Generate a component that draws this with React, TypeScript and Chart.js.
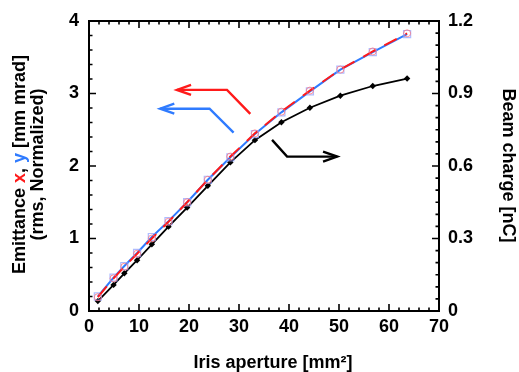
import React, { useEffect, useRef } from "react";
import { Chart, registerables } from "chart.js";

Chart.register(...registerables);

// ---- data ----
const apertures = [1.77, 4.91, 7.07, 9.62, 12.57, 15.9, 19.63, 23.76, 28.27, 33.18, 38.48, 44.18, 50.27, 56.75, 63.62];
const emittanceX = [0.19, 0.45, 0.61, 0.79, 1.0, 1.23, 1.5, 1.81, 2.13, 2.45, 2.75, 3.04, 3.33, 3.58, 3.83];
const emittanceY = [0.2, 0.46, 0.62, 0.8, 1.02, 1.24, 1.5, 1.81, 2.12, 2.44, 2.74, 3.03, 3.33, 3.57, 3.82];
const beamCharge = [0.041, 0.108, 0.156, 0.21, 0.276, 0.349, 0.428, 0.518, 0.615, 0.707, 0.781, 0.841, 0.891, 0.931, 0.962];

const xTicks = [0, 10, 20, 30, 40, 50, 60, 70];
const leftTicks = [0, 1, 2, 3, 4];
const rightTicks = [0, 0.3, 0.6, 0.9, 1.2];
const rightTickLabels = ["0", "0.3", "0.6", "0.9", "1.2"];
const xMinorStep = 2;
const leftMinorStep = 0.2;
const rightMinorStep = 0.05;

const xTitle = "Iris aperture [mm\u00B2]";
const rightTitle = "Beam charge [nC]";
const leftTitleLine2 = "(rms, Normalized)";

const RED = "#ff1a1a";
const BLUE = "#2f7bff";
const BLACK = "#000000";

// annotation arrows in data coordinates (x, left y)
const arrowRed = [[32.26, 2.72], [27.6, 3.05], [17.58, 3.05]];
const arrowBlue = [[28.92, 2.46], [24.11, 2.79], [14.23, 2.79]];
const arrowBlack = [[36.61, 2.36], [39.62, 2.13], [49.64, 2.13]];

const FONT = "'Liberation Sans', Arial, Helvetica, sans-serif";

const framePlugin = {
  id: "frameTicks",
  afterDraw(chart: any) {
    const { ctx, chartArea: a, scales } = chart;
    const sx = scales.x, sy = scales.y, sy2 = scales.y2;
    ctx.save();
    ctx.strokeStyle = "#000";
    ctx.lineWidth = 1.6;
    const major = 7, minor = 3.5;
    ctx.beginPath();
    for (let v = 0; v <= 70 + 1e-9; v += xMinorStep) {
      const isMajor = xTicks.some((t) => Math.abs(t - v) < 1e-6);
      const L = isMajor ? major : minor;
      const px = sx.getPixelForValue(v);
      ctx.moveTo(px, a.bottom); ctx.lineTo(px, a.bottom - L);
      ctx.moveTo(px, a.top); ctx.lineTo(px, a.top + L);
    }
    for (let v = 0; v <= 4 + 1e-9; v += leftMinorStep) {
      const isMajor = leftTicks.some((t) => Math.abs(t - v) < 1e-6);
      const L = isMajor ? major : minor;
      const py = sy.getPixelForValue(v);
      ctx.moveTo(a.left, py); ctx.lineTo(a.left + L, py);
    }
    for (let v = 0; v <= 1.2 + 1e-9; v += rightMinorStep) {
      const isMajor = rightTicks.some((t) => Math.abs(t - v) < 1e-6);
      const L = isMajor ? major : minor;
      const py = sy2.getPixelForValue(v);
      ctx.moveTo(a.right, py); ctx.lineTo(a.right - L, py);
    }
    ctx.stroke();
    ctx.lineWidth = 2;
    ctx.strokeRect(a.left, a.top, a.right - a.left, a.bottom - a.top);

    // titles
    ctx.fillStyle = "#000";
    ctx.font = `bold 18px ${FONT}`;
    ctx.textBaseline = "middle";
    ctx.textAlign = "center";
    ctx.fillText(xTitle, 273, 363);

    ctx.save();
    ctx.translate(508, 165.5);
    ctx.rotate(Math.PI / 2);
    ctx.fillText(rightTitle, 0, 0);
    ctx.restore();

    ctx.save();
    ctx.translate(20, 164.5);
    ctx.rotate(-Math.PI / 2);
    const parts: [string, string][] = [
      ["Emittance ", BLACK], ["x", RED], [", ", BLACK], ["y", BLUE], [" [mm mrad]", BLACK],
    ];
    const total = parts.reduce((s, p) => s + ctx.measureText(p[0]).width, 0);
    let cx = -total / 2;
    ctx.textAlign = "left";
    for (const [t, c] of parts) {
      ctx.fillStyle = c;
      ctx.fillText(t, cx, 0);
      cx += ctx.measureText(t).width;
    }
    ctx.fillStyle = BLACK;
    ctx.textAlign = "center";
    ctx.fillText(leftTitleLine2, 0, 18);
    ctx.restore();
    ctx.restore();
  },
  afterDatasetsDraw(chart: any) {
    const { ctx, scales } = chart;
    const sx = scales.x, sy = scales.y;
    const drawArrow = (pts: number[][], color: string) => {
      const p = pts.map(([x, y]) => [sx.getPixelForValue(x), sy.getPixelForValue(y)]);
      ctx.save();
      ctx.strokeStyle = color;
      ctx.lineWidth = 2.4;
      ctx.lineJoin = "miter";
      ctx.beginPath();
      ctx.moveTo(p[0][0], p[0][1]);
      for (let i = 1; i < p.length; i++) ctx.lineTo(p[i][0], p[i][1]);
      ctx.stroke();
      const [ex, ey] = p[p.length - 1];
      const [qx, qy] = p[p.length - 2];
      const ang = Math.atan2(ey - qy, ex - qx);
      const len = 15, spread = 0.34;
      ctx.beginPath();
      ctx.moveTo(ex - len * Math.cos(ang - spread), ey - len * Math.sin(ang - spread));
      ctx.lineTo(ex, ey);
      ctx.lineTo(ex - len * Math.cos(ang + spread), ey - len * Math.sin(ang + spread));
      ctx.stroke();
      ctx.restore();
    };
    drawArrow(arrowRed, RED);
    drawArrow(arrowBlue, BLUE);
    drawArrow(arrowBlack, BLACK);
  },
};

export default function App() {
  const ref = useRef<HTMLCanvasElement | null>(null);
  useEffect(() => {
    if (!ref.current) return;
    const tickFont = { family: FONT, size: 18, weight: "bold" as const };
    const chart = new Chart(ref.current, {
      type: "line",
      data: {
        datasets: [
          {
            label: "x",
            data: apertures.map((x, i) => ({ x, y: emittanceX[i] })),
            yAxisID: "y",
            borderColor: RED,
            borderWidth: 2,
            borderDash: [14, 10],
            pointStyle: "circle",
            pointRadius: 3.5,
            pointBorderColor: "rgba(255,110,120,0.75)",
            pointBackgroundColor: "rgba(0,0,0,0)",
            pointBorderWidth: 1,
            order: 0,
          },
          {
            label: "y",
            data: apertures.map((x, i) => ({ x, y: emittanceY[i] })),
            yAxisID: "y",
            borderColor: BLUE,
            borderWidth: 2,
            pointStyle: "rect",
            pointRadius: 5,
            pointBorderColor: "rgba(140,160,255,0.7)",
            pointBackgroundColor: "rgba(0,0,0,0)",
            pointBorderWidth: 1.2,
            order: 1,
          },
          {
            label: "charge",
            data: apertures.map((x, i) => ({ x, y: beamCharge[i] })),
            yAxisID: "y2",
            borderColor: BLACK,
            borderWidth: 1.8,
            pointStyle: "rectRot",
            pointRadius: 3.2,
            pointBorderColor: BLACK,
            pointBackgroundColor: BLACK,
            pointBorderWidth: 0,
            order: 2,
          },
        ],
      },
      options: {
        responsive: false,
        animation: false,
        devicePixelRatio: 1,
        layout: { padding: { top: 21, left: 0, right: 0, bottom: 0 } },
        plugins: { legend: { display: false }, tooltip: { enabled: false } },
        elements: { line: { tension: 0 } },
        scales: {
          x: {
            type: "linear",
            min: 0,
            max: 70,
            grid: { display: false, drawTicks: false },
            border: { display: false },
            ticks: { stepSize: 10, font: tickFont, color: "#000", padding: 5, maxRotation: 0,
              callback: (v: any) => (xTicks.includes(Number(v)) ? String(v) : "") },
            afterFit: (s: any) => { s.height = 61; },
          },
          y: {
            type: "linear",
            position: "left",
            min: 0,
            max: 4,
            grid: { display: false, drawTicks: false },
            border: { display: false },
            ticks: { stepSize: 1, font: tickFont, color: "#000", padding: 10,
              callback: (v: any) => (leftTicks.includes(Number(v)) ? String(v) : "") },
            afterFit: (s: any) => { s.width = 89; },
          },
          y2: {
            type: "linear",
            position: "right",
            min: 0,
            max: 1.2,
            grid: { display: false, drawTicks: false },
            border: { display: false },
            ticks: { stepSize: 0.3, font: tickFont, color: "#000", padding: 9,
              callback: (v: any) => {
                const i = rightTicks.findIndex((t) => Math.abs(t - Number(v)) < 1e-6);
                return i >= 0 ? rightTickLabels[i] : "";
              } },
            afterFit: (s: any) => { s.width = 80; },
          },
        },
      } as any,
      plugins: [framePlugin],
    });
    return () => chart.destroy();
  }, []);
  return (
    <div style={{ position: "fixed", left: 0, top: 0, width: 519, height: 372, background: "#fff" }}>
      <canvas ref={ref} width={519} height={372} style={{ width: 519, height: 372 }} />
    </div>
  );
}
